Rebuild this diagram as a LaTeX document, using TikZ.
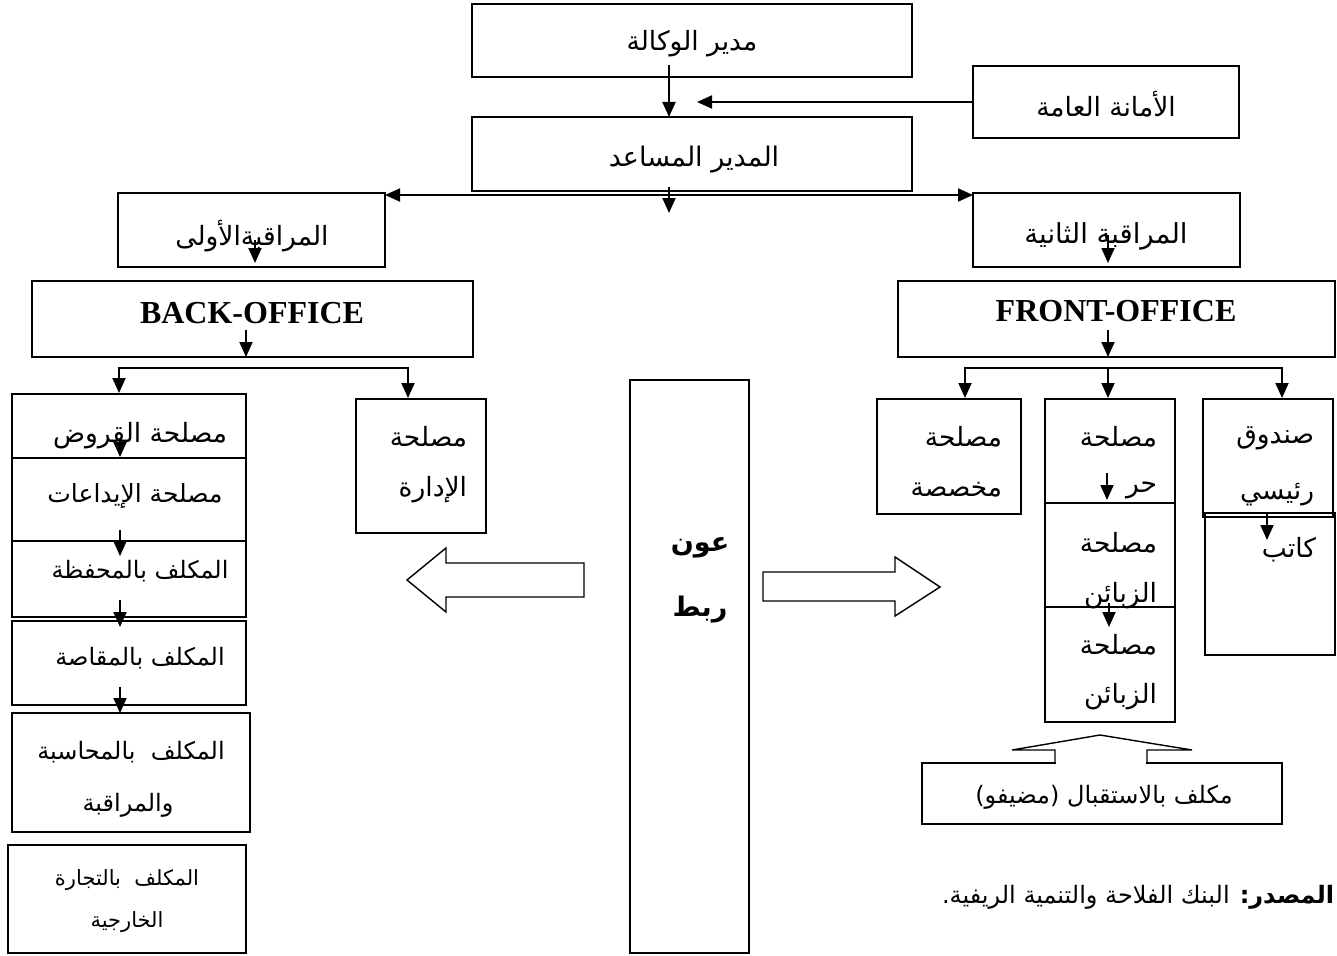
\documentclass[tikz,border=0pt]{standalone}
\usepackage{fontspec}
\setmainfont{Liberation Serif}
\newfontfamily\arabicfont[Script=Arabic]{DejaVu Sans}
\TeXXeTstate=1
\usetikzlibrary{arrows.meta}
\newcommand\artxt[1]{{\arabicfont\beginR #1\endR}}
\newcommand\mybox[5]{\node[box,minimum width={(#4)-(#2)},minimum height={(#5)-(#3)}] (#1) at ({((#2)+(#4))/2},{((#3)+(#5))/2}) {};}
\tikzset{
  box/.style={draw,inner sep=0pt,outer sep=0pt,line width=1.9pt},
  lbl/.style={inner sep=0pt,font=\fontsize{26.5}{31}\selectfont},
  lblsm/.style={inner sep=0pt,font=\fontsize{24}{28}\selectfont},
  small/.style={inner sep=0pt,font=\fontsize{21}{25}\selectfont},
  arr/.style={-{Triangle[length=15pt,width=13pt]}},
  arrr/.style={{Triangle[length=15pt,width=13pt]}-{Triangle[length=15pt,width=13pt]}},
  hollow/.style={draw,fill=white,line width=1.4pt,line join=miter}
}
\begin{document}
\begin{tikzpicture}[x=1pt,y=-1pt,line width=1.9pt]
\useasboundingbox (0,0) rectangle (1337,955);
% boxes
\mybox{dir}{472}{4}{912}{77}
\mybox{amana}{973}{66}{1239}{138}
\mybox{assist}{472}{117}{912}{191}
\mybox{mur1}{118}{193}{385}{267}
\mybox{mur2}{973}{193}{1240}{267}
\mybox{back}{32}{281}{473}{357}
\mybox{front}{898}{281}{1335}{357}
\mybox{qurud}{12}{394}{246}{458}
\mybox{idaat}{12}{458}{246}{541}
\mybox{mahfaza}{12}{541}{246}{617}
\mybox{muqassa}{12}{621}{246}{705}
\mybox{muhasaba}{12}{713}{250}{832}
\mybox{tijara}{8}{845}{246}{953}
\mybox{idara}{356}{399}{486}{533}
\mybox{awn}{630}{380}{749}{953}
\mybox{mukhassasa}{877}{399}{1021}{514}
\mybox{hurr}{1045}{399}{1175}{503}
\mybox{zaba1}{1045}{503}{1175}{607}
\mybox{zaba2}{1045}{607}{1175}{722}
\mybox{sunduq}{1203}{399}{1333}{517}
\mybox{katib}{1205}{513}{1335}{655}
\mybox{istq}{922}{763}{1282}{824}
% texts
\node[lbl] (t-dir) at (692,44) {\artxt{مدير الوكالة}};
\node[lbl] (t-amana) at (1106,104) {\artxt{الأمانة العامة}};
\node[lbl,font=\fontsize{27}{31}\selectfont] (t-assist) at (694,160) {\artxt{المدير المساعد}};
\node[lbl] (t-mur1) at (252,236) {\artxt{المراقبةالأولى}};
\node[lbl,font=\fontsize{27.5}{31}\selectfont] (t-mur2) at (1106,236) {\artxt{المراقبة الثانية}};
\node[inner sep=0pt,font=\fontsize{32}{35}\selectfont\bfseries] (t-back) at (252,313) {BACK-OFFICE};
\node[inner sep=0pt,font=\fontsize{32}{35}\selectfont\bfseries] (t-front) at (1116,311) {FRONT-OFFICE};
\node[lbl] (t-qurud) at (140,436) {\artxt{مصلحة القروض}};
\node[lblsm,font=\fontsize{25}{29}\selectfont] (t-idaat) at (135,496) {\artxt{مصلحة الإيداعات}};
\node[lblsm] (t-mahfaza) at (140,571) {\artxt{المكلف بالمحفظة}};
\node[lblsm] (t-muqassa) at (140,658) {\artxt{المكلف بالمقاصة}};
\node[lblsm] (t-muhasaba1) at (131,752) {\artxt{المكلف\ \ بالمحاسبة}};
\node[lblsm] (t-muhasaba2) at (128,805) {\artxt{والمراقبة}};
\node[small] (t-tijara1) at (127,880) {\artxt{المكلف\ \ بالتجارة}};
\node[small] (t-tijara2) at (127,922) {\artxt{الخارجية}};
\node[lbl,anchor=east] (t-idara1) at (468,437) {\artxt{مصلحة}};
\node[lbl,anchor=east] (t-idara2) at (468,490) {\artxt{الإدارة}};
\node[lbl,font=\fontsize{27}{31}\selectfont\bfseries] (t-awn1) at (700,548) {\artxt{عون}};
\node[lbl,font=\fontsize{27}{31}\selectfont\bfseries] (t-awn2) at (700,610) {\artxt{ربط}};
\node[lbl,anchor=east] (t-mukh1) at (1003,437) {\artxt{مصلحة}};
\node[lbl,anchor=east] (t-mukh2) at (1003,490) {\artxt{مخصصة}};
\node[lbl,anchor=east] (t-hurr1) at (1158,437) {\artxt{مصلحة}};
\node[lbl,anchor=east] (t-hurr2) at (1158,490) {\artxt{حر}};
\node[lbl,anchor=east] (t-zaba1a) at (1158,543) {\artxt{مصلحة}};
\node[lbl,anchor=east] (t-zaba1b) at (1158,596) {\artxt{الزبائن}};
\node[lbl,anchor=east] (t-zaba2a) at (1158,645) {\artxt{مصلحة}};
\node[lbl,anchor=east] (t-zaba2b) at (1158,697) {\artxt{الزبائن}};
\node[lbl,anchor=east] (t-sunduq1) at (1315,438) {\artxt{صندوق}};
\node[lbl,anchor=east] (t-sunduq2) at (1315,495) {\artxt{رئيسي}};
\node[lbl,anchor=east] (t-katib) at (1317,550) {\artxt{كاتب}};
\node[lblsm] (t-istq) at (1104,797) {\artxt{مكلف بالاستقبال (مضيفو)}};
\node[inner sep=0pt,font=\fontsize{24}{28}\selectfont,anchor=east] (t-src) at (1335,897) {\artxt{{\bfseries المصدر:} البنك الفلاحة والتنمية الريفية.}};
% connectors
\draw[arr] (669,65) -- (assist.north -| 669,0);
\draw[arr] (amana.west) -- (697,102);
\draw[arrr] ([yshift=-2pt]mur1.north east) -- ([yshift=-2pt]mur2.north west);
\draw[arr] (669,187) -- (669,213);
\draw[arr] (255,240) -- (255,263);
\draw[arr] (1108,235) -- (1108,263);
\draw[arr] (246,330) -- (back.south -| 246,0);
\draw[arr] (1108,330) -- (front.south -| 1108,0);
\coordinate (bl) at (246,368);
\draw[arr] (bl) -| (119,393);
\draw[arr] (bl) -| (408,398);
\coordinate (br) at (1108,368);
\draw[arr] (br) -| (965,398);
\draw[arr] (br) -- (1108,398);
\draw[arr] (br) -| (1282,398);
\draw[arr] (120,438) -- (120,457);
\draw[arr] (120,530) -- (120,556);
\draw[arr] (120,600) -- (120,627);
\draw[arr] (120,687) -- (120,713);
\draw[arr] (1107,473) -- (1107,500);
\draw[arr] (1109,603) -- (1109,627);
\draw[arr] (1267,513) -- (1267,540);
% hollow block arrows
\draw[hollow] (584,563) -- (446,563) -- (446,548) -- (407,580) -- (446,612) -- (446,597) -- (584,597) -- cycle;
\draw[hollow] (763,572) -- (895,572) -- (895,557) -- (940,587) -- (895,616) -- (895,601) -- (763,601) -- cycle;
\fill[white] (1056,750) rectangle (1146,766);
\draw[line width=1.4pt,line join=miter] (1055,764) -- (1055,750) -- (1012,750) -- (1100,735) -- (1192,750) -- (1147,750) -- (1147,764);
\end{tikzpicture}
\end{document}
